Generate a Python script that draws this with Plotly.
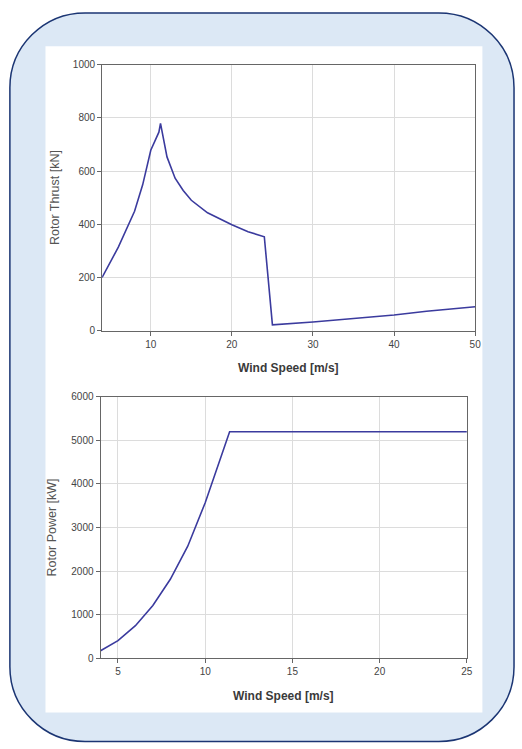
import plotly.graph_objects as go

# Rotor thrust curve (wind speed m/s -> thrust kN)
thrust_ws = [4, 6, 8, 9, 10, 11, 11.2, 12, 13, 14, 15, 16, 17, 20, 22, 24, 25, 30, 36, 40, 44, 50]
thrust_kn = [200, 314, 449, 548, 678, 746, 779, 653, 573, 527, 490, 466, 443, 398, 372, 353, 22, 33, 47, 59, 73, 90]

# Rotor power curve (wind speed m/s -> power kW)
power_ws = [4, 5, 6, 7, 8, 9, 10, 11.4, 25]
power_kw = [170, 400, 745, 1210, 1810, 2570, 3570, 5200, 5200]

W, H = 522, 749
LINE = "#3b3b9e"
AXIS = "#666666"
GRID = "#dcdcdc"
FONT = "Liberation Sans, Arial, sans-serif"


def fx(x):
    """pixel column -> paper fraction"""
    return x / W


def fy(y):
    """pixel row (from top) -> paper fraction"""
    return 1 - y / H


def rounded_rect(l, t, r, b, rad):
    k = 0.5523 * rad
    pts = [
        f"M{fx(l + rad)},{fy(t)}",
        f"L{fx(r - rad)},{fy(t)}",
        f"C{fx(r - rad + k)},{fy(t)} {fx(r)},{fy(t + rad - k)} {fx(r)},{fy(t + rad)}",
        f"L{fx(r)},{fy(b - rad)}",
        f"C{fx(r)},{fy(b - rad + k)} {fx(r - rad + k)},{fy(b)} {fx(r - rad)},{fy(b)}",
        f"L{fx(l + rad)},{fy(b)}",
        f"C{fx(l + rad - k)},{fy(b)} {fx(l)},{fy(b - rad + k)} {fx(l)},{fy(b - rad)}",
        f"L{fx(l)},{fy(t + rad)}",
        f"C{fx(l)},{fy(t + rad - k)} {fx(l + rad - k)},{fy(t)} {fx(l + rad)},{fy(t)}",
        "Z",
    ]
    return " ".join(pts)


fig = go.Figure()
fig.add_trace(go.Scatter(x=thrust_ws, y=thrust_kn, mode="lines",
                         line=dict(color=LINE, width=1.6),
                         xaxis="x", yaxis="y", showlegend=False, hoverinfo="x+y"))
fig.add_trace(go.Scatter(x=power_ws, y=power_kw, mode="lines",
                         line=dict(color=LINE, width=1.6),
                         xaxis="x2", yaxis="y2", showlegend=False, hoverinfo="x+y"))

axis_common = dict(
    showline=True, mirror=True, linecolor=AXIS, linewidth=1,
    ticks="outside", ticklen=4, tickcolor=AXIS, tickwidth=1,
    showgrid=True, gridcolor=GRID, gridwidth=1,
    zeroline=False, fixedrange=True,
    tickfont=dict(family=FONT, size=10, color="#444444"),
)

# Top panel: thrust
top = dict(l=103.3, r=480.7, t=59.5, b=330.0)
# Bottom panel: power
bot = dict(l=101.7, r=472.3, t=397.3, b=662.7)

fig.update_layout(
    width=W, height=H,
    margin=dict(l=0, r=0, t=0, b=0),
    paper_bgcolor="white",
    plot_bgcolor="rgba(0,0,0,0)",
    font=dict(family=FONT),
    xaxis=dict(axis_common, domain=[fx(top["l"]), fx(top["r"])], range=[4, 50],
               tickmode="linear", tick0=0, dtick=10, anchor="y"),
    yaxis=dict(axis_common, domain=[fy(top["b"]), fy(top["t"])], range=[0, 1000],
               tickmode="linear", tick0=0, dtick=200, anchor="x"),
    xaxis2=dict(axis_common, domain=[fx(bot["l"]), fx(bot["r"])], range=[4, 25],
                tickmode="linear", tick0=0, dtick=5, anchor="y2"),
    yaxis2=dict(axis_common, domain=[fy(bot["b"]), fy(bot["t"])], range=[0, 6000],
                tickmode="linear", tick0=0, dtick=1000, anchor="x2"),
    shapes=[
        # light-blue rounded card with navy outline
        dict(type="path", xref="paper", yref="paper", layer="below",
             path=rounded_rect(10, 7, 520, 747.5, 76),
             fillcolor="#dce8f5", line=dict(color="#1b3573", width=1.5)),
        # white sheet holding both charts
        dict(type="rect", xref="paper", yref="paper", layer="below",
             x0=fx(46), x1=fx(488), y0=fy(718), y1=fy(41),
             fillcolor="white", line=dict(width=0)),
    ],
    annotations=[
        dict(text="Wind Speed [m/s]", xref="paper", yref="paper",
             x=fx((top["l"] + top["r"]) / 2), y=fy(368), showarrow=False,
             xanchor="center", yanchor="middle",
             font=dict(family=FONT, size=12, color="#3a3a3a", weight="bold")),
        dict(text="Rotor Thrust [kN]", xref="paper", yref="paper",
             x=fx(55), y=fy((top["t"] + top["b"]) / 2), showarrow=False, textangle=-90,
             xanchor="center", yanchor="middle",
             font=dict(family=FONT, size=12.5, color="#555555")),
        dict(text="Wind Speed [m/s]", xref="paper", yref="paper",
             x=fx(286.7), y=fy(701), showarrow=False,
             xanchor="center", yanchor="middle",
             font=dict(family=FONT, size=12, color="#3a3a3a", weight="bold")),
        dict(text="Rotor Power [kW]", xref="paper", yref="paper",
             x=fx(52.5), y=fy((bot["t"] + bot["b"]) / 2), showarrow=False, textangle=-90,
             xanchor="center", yanchor="middle",
             font=dict(family=FONT, size=12.5, color="#555555")),
    ],
)

fig.write_html("out.html")
